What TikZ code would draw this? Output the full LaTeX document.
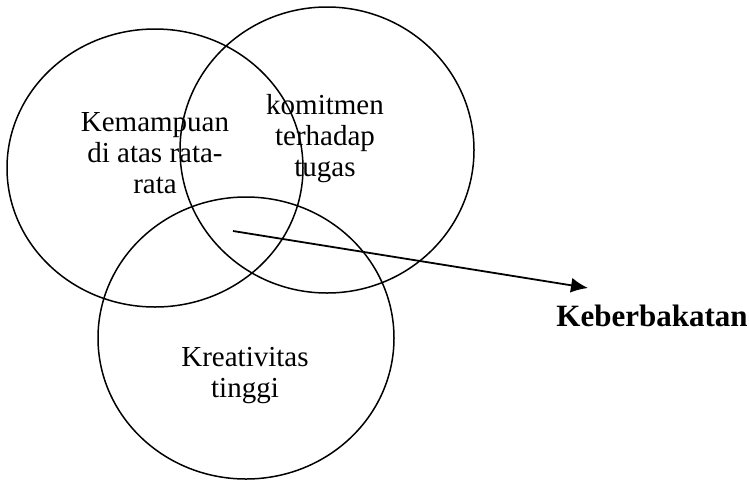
\documentclass[tikz,border=0pt]{standalone}
\usepackage{fontspec}
\setmainfont{Liberation Serif}
\usetikzlibrary{arrows.meta}
\begin{document}
\begin{tikzpicture}[x=1pt,y=-1pt,
  label/.style={align=center,font=\fontsize{29}{31}\selectfont,inner sep=0pt},
  ring/.style={line width=1.5pt}]
\useasboundingbox (0,0) rectangle (749,480);
\draw[ring] (155,168) ellipse [x radius=148,y radius=139];
\draw[ring] (327,150) ellipse [x radius=147,y radius=143];
\draw[ring] (246,338) ellipse [x radius=148,y radius=141];
\node[label] (kemampuan) at (155,153) {Kemampuan\\di atas rata-\\rata};
\node[label] (komitmen) at (325,139) {komitmen\\terhadap\\tugas};
\node[label] (kreativitas) at (245,376) {Kreativitas\\tinggi};
\node[font=\fontsize{31}{34}\selectfont\bfseries,inner sep=0pt] (bakat) at (652,316) {Keberbakatan};
\coordinate (tengah) at (233,231);
\coordinate (ujung) at (588,288);
\draw[line width=1.8pt,-{Latex[length=17pt,width=15pt]}] (tengah) -- (ujung);
\end{tikzpicture}
\end{document}
